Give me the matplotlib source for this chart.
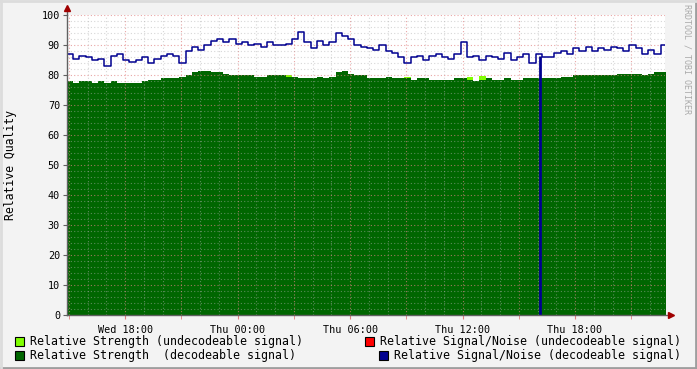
import numpy as np
import matplotlib
matplotlib.use('Agg')
import matplotlib.pyplot as plt
from matplotlib.lines import Line2D
from matplotlib.patches import Rectangle

# samples every 20 min, hours relative to Wed 18:00
t_start = -3.1
t_step = 1/3.

snr_decoded = [87, 85.5, 86.5, 86, 85, 85.5, 83, 86.5, 87, 85,
               84.5, 85, 86, 84, 85.5, 86.5, 87, 86.5, 84, 88,
               89.5, 88.5, 90, 91.5, 92, 91, 92, 90.5, 91, 90,
               90.5, 89.5, 91, 90, 90, 90.5, 92, 94.5, 91, 89,
               91.5, 90, 91, 94, 93, 92, 90, 89.5, 89, 88.5,
               90, 88, 87.5, 86, 84, 86, 86.5, 85, 86.5, 87,
               86, 85.5, 87, 91, 86, 86.5, 85, 86.5, 86, 85.5,
               87.5, 85, 86, 87, 84, 87, 86, 86, 87.5, 88,
               87, 89, 88, 89.5, 88, 89, 88.5, 89.5, 89, 88,
               90, 89, 87, 88.5, 87, 90]

strength_decoded = [78, 77.5, 78, 78, 77.5, 78, 77.5, 78, 77.5, 77.5,
                    77.5, 77.5, 78, 78.5, 78.5, 79, 79, 79, 79.5, 80,
                    81, 81.5, 81.5, 81, 81, 80.5, 80, 80, 80, 80,
                    79.5, 79.5, 80, 80, 80, 79.5, 79.5, 79, 79, 79,
                    79.5, 79, 79.5, 81, 81.5, 80.5, 80, 80, 79, 79,
                    79, 79.5, 79, 79, 79, 78.5, 79, 79, 78.5, 78.5,
                    78.5, 78.5, 79, 79, 78.5, 78, 78.5, 79, 78.5, 78.5,
                    79, 78.5, 78.5, 79, 79, 79, 79, 79, 79, 79.5,
                    79.5, 80, 80, 80, 80, 80, 80, 80, 80.5, 80.5,
                    80.5, 80.5, 80, 80.5, 81, 81]

# undecodeable strength only peeks out at a few samples
undecoded_idx = [35, 54, 64, 66]
undecoded_val = [80.0, 79.5, 79.3, 79.7]

# single dropout of the SNR
dropout_time = 22.13
dropout_value = 0

xtick_labels = ['Wed 18:00', 'Thu 00:00', 'Thu 06:00', 'Thu 12:00', 'Thu 18:00']
xtick_pos = [0, 6, 12, 18, 24]

legend_items = [('Relative Strength (undecodeable signal)', '#80FF00'),
                ('Relative Signal/Noise (undecodeable signal)', '#FF0000'),
                ('Relative Strength  (decodeable signal)', '#006600'),
                ('Relative Signal/Noise (decodeable signal)', '#000090')]

mono = 'DejaVu Sans Mono'
plt.rcParams['font.family'] = mono

n = len(snr_decoded)
t = t_start + np.arange(n + 1) * t_step
snr = np.append(snr_decoded, snr_decoded[-1])
strength = np.append(strength_decoded, strength_decoded[-1])
undecoded = strength.copy()
for i, v in zip(undecoded_idx, undecoded_val):
    undecoded[i] = v

fig = plt.figure(figsize=(6.97, 3.69), dpi=100, facecolor='#F3F3F3')
ax = fig.add_axes([67/697, 54/369, 598/697, 300/369])
ax.set_facecolor('white')

ax.fill_between(t, 0, undecoded, step='post', color='#80FF00', lw=0, zorder=1)
ax.fill_between(t, 0, strength, step='post', color='#006600', lw=0, zorder=1.1)
ax.step(t, snr, where='post', color='#000090', lw=1.1, zorder=3)
ax.vlines(dropout_time, dropout_value, 86.5, color='#000090', lw=2, zorder=3)

ax.set_xlim(-3.1, 28.8)
ax.set_ylim(0, 100)

# grid
for h in np.arange(-3, 29, 1):
    major = (h % 3 == 0)
    ax.axvline(h, color='#E08080' if major else '#B0B0B0', lw=0.8,
               ls=(0, (1, 2)), alpha=0.7 if major else 0.5, zorder=2)
for v in np.arange(2, 101, 2):
    major = (v % 10 == 0)
    ax.axhline(v, color='#E08080' if major else '#B0B0B0', lw=0.8,
               ls=(0, (1, 2)), alpha=0.7 if major else 0.5, zorder=2)

for s in ax.spines.values():
    s.set_visible(False)

ax.set_yticks(np.arange(0, 101, 10))
ax.set_yticklabels([str(v) for v in range(0, 101, 10)], fontsize=7.3)
ax.set_xticks(xtick_pos)
ax.set_xticklabels(xtick_labels, fontsize=7.3)
ax.set_xticks(np.arange(-3, 29, 3), minor=True)
ax.tick_params(axis='x', which='both', length=3, color='#E08080', pad=4)
ax.tick_params(axis='y', length=3, color='#606060', pad=2)
ax.set_ylabel('Relative Quality', fontsize=8.3)
ax.yaxis.set_label_coords(-50/598, 0.5)

# axes with arrows
ax.plot([0, 0], [0, 1.025], transform=ax.transAxes, color='#606060', lw=1, clip_on=False, zorder=4)
ax.plot([0, 1.008], [0, 0], transform=ax.transAxes, color='#606060', lw=1, clip_on=False, zorder=4)
ax.plot([0], [1.025], marker='^', ms=4, color='#A00000', transform=ax.transAxes, clip_on=False, zorder=5)
ax.plot([1.01], [0], marker='>', ms=4, color='#A00000', transform=ax.transAxes, clip_on=False, zorder=5)

fig.text(687/697, 1 - 4/369, 'RRDTOOL / TOBI OETIKER', rotation=270, fontsize=6,
         color='#AAAAAA', ha='center', va='top')

# legend
rows = [(341, [(15, 30), (365, 380)]), (355, [(15, 30), (379, 394)])]
k = 0
for y, cols in rows:
    for bx, tx in cols:
        label, col = legend_items[k]
        k += 1
        fig.patches.append(Rectangle((bx/697, 1 - (y + 4.5)/369), 9/697, 9/369,
                                     transform=fig.transFigure, facecolor=col,
                                     edgecolor='black', lw=0.8))
        fig.text(tx/697, 1 - y/369, label, fontsize=8.4, va='center', ha='left')

# frame shading
fig.add_artist(Line2D([0, 1], [0.002, 0.002], transform=fig.transFigure, color='#9E9E9E', lw=2))
fig.add_artist(Line2D([0.998, 0.998], [0, 1], transform=fig.transFigure, color='#9E9E9E', lw=2))
fig.add_artist(Line2D([0, 1], [0.998, 0.998], transform=fig.transFigure, color='#DCDCDC', lw=2))
fig.add_artist(Line2D([0.002, 0.002], [0, 1], transform=fig.transFigure, color='#DCDCDC', lw=2))

fig.savefig('out.png', dpi=100, facecolor=fig.get_facecolor())
